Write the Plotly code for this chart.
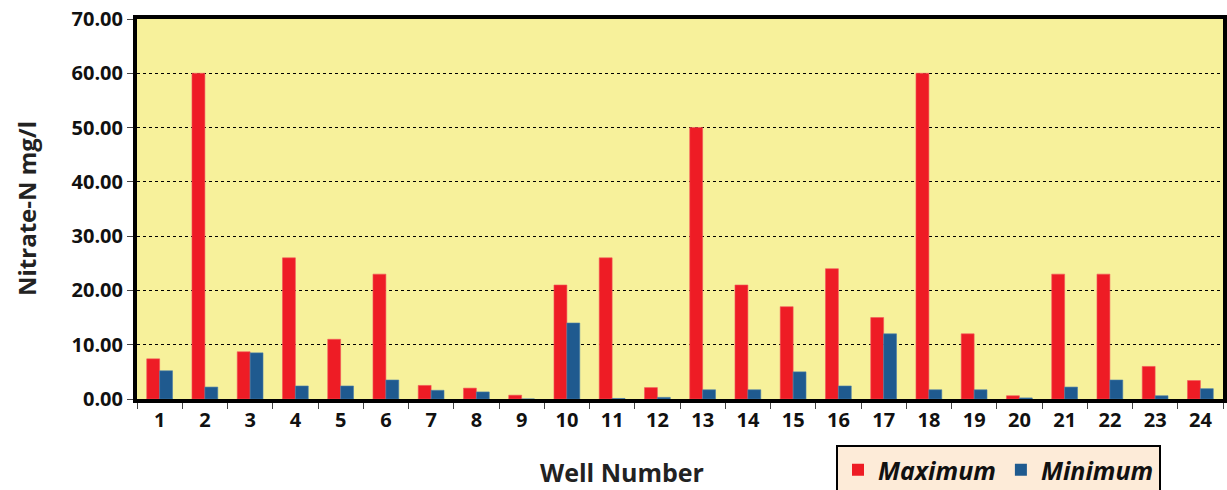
import plotly.graph_objects as go

wells = [str(i) for i in range(1, 25)]
maximum = [7.4, 60, 8.7, 26, 11, 23, 2.5, 2.0, 0.7, 21, 26, 2.1,
           50, 21, 17, 24, 15, 60, 12, 0.6, 23, 23, 6.0, 3.4]
minimum = [5.2, 2.2, 8.5, 2.4, 2.4, 3.5, 1.6, 1.3, 0.0, 14, 0.1, 0.3,
           1.7, 1.7, 5.0, 2.4, 12, 1.7, 1.7, 0.2, 2.2, 3.5, 0.6, 1.9]
series_names = ["Maximum", "Minimum"]
series_colors = ["#EE1C25", "#1F5A8F"]
edge_colors = ["#F2555B", "#4A7DAA"]

FONT = "Open Sans"

fig = go.Figure()
for name, vals, col, edge in zip(series_names, [maximum, minimum], series_colors, edge_colors):
    fig.add_trace(go.Bar(x=wells, y=vals, name=name, showlegend=False,
                         marker=dict(color=col, line=dict(color=edge, width=0.6))))
# legend entries with large square keys
for name, col in zip(series_names, series_colors):
    fig.add_trace(go.Scatter(x=[None], y=[None], mode="markers", name=name,
                             marker=dict(symbol="square", size=15, color=col)))

fig.update_layout(
    width=1227, height=490,
    margin=dict(l=137, r=4, t=19, b=91),
    paper_bgcolor="white",
    plot_bgcolor="#F7F19B",
    barmode="group",
    bargap=0.43,
    bargroupgap=0,
    font=dict(family=FONT, color="#111111"),
    showlegend=True,
    legend=dict(
        orientation="h",
        xref="container", yref="container",
        x=836 / 1227, y=1 - 445 / 490, xanchor="left", yanchor="top",
        bgcolor="#FDEBD8", bordercolor="black", borderwidth=2,
        font=dict(family=FONT, size=25, weight="bold", style="italic", color="#111111"),
        itemwidth=30, tracegroupgap=0, itemsizing="constant",
    ),
)

fig.update_yaxes(
    range=[0, 70], dtick=10, tickformat=".2f",
    showgrid=True, gridcolor="black", griddash="dot", gridwidth=1,
    showline=True, linecolor="black", linewidth=4, mirror=True,
    ticks="outside", ticklen=6, tickcolor="#444444", tickwidth=1,
    tickfont=dict(family=FONT, size=20, weight="bold", color="#111111"),
    zeroline=False, automargin=False,
)
fig.update_xaxes(
    showgrid=False,
    showline=True, linecolor="black", linewidth=4, mirror=True,
    ticks="outside", tickson="boundaries", ticklen=6, tickcolor="#444444", tickwidth=1,
    tickfont=dict(family=FONT, size=20, weight="bold", color="#111111"),
    automargin=False,
)

fig.add_annotation(
    text="Well Number", xref="paper", yref="paper",
    x=(622 - 137) / 1086, y=(399 - 472) / 380, xanchor="center", yanchor="middle",
    showarrow=False,
    font=dict(family=FONT, size=25, weight="bold", color="#222222"),
)
fig.add_annotation(
    text="Nitrate-N mg/l", xref="paper", yref="paper", textangle=-90,
    x=(26 - 137) / 1086, y=0.5, xanchor="center", yanchor="middle",
    showarrow=False,
    font=dict(family=FONT, size=24, weight="bold", color="#222222"),
)

fig.write_html("out.html",
               config={"displayModeBar": False},
               post_script="document.body.style.margin='0';document.body.style.overflow='hidden';")
